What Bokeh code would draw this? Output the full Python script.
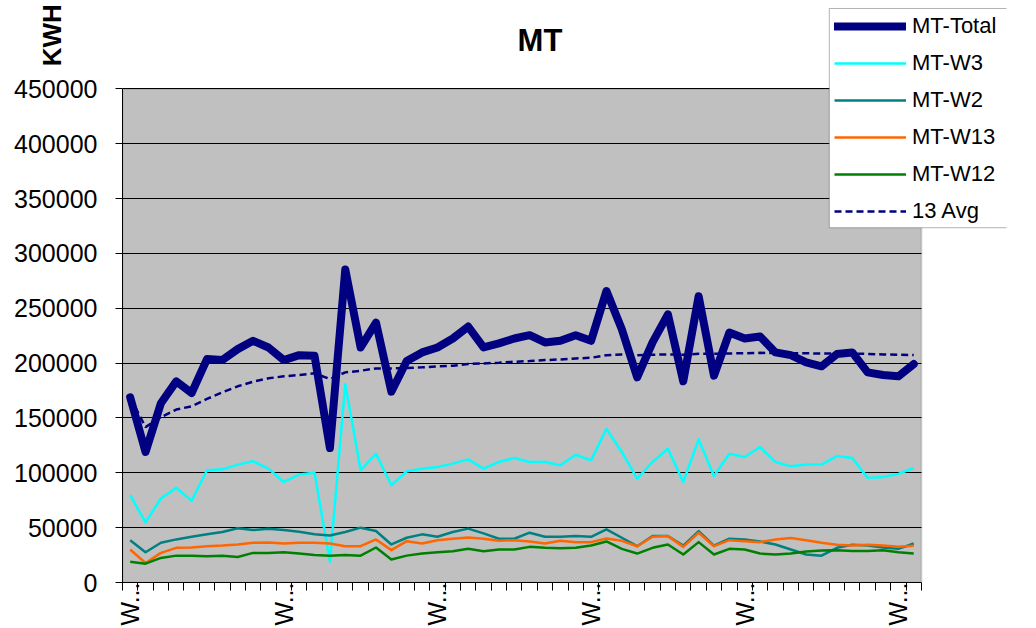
import math
from bokeh.plotting import figure
from bokeh.models import (Range1d, FixedTicker, NumeralTickFormatter, Legend, LegendItem,
                          Label, BoxAnnotation)
from bokeh.embed import file_html
from bokeh.resources import INLINE

# ---- data ----
weeks = list(range(1, 53))

mt_total = [168900, 119000, 163500, 183400, 172800, 203700, 202800, 212800, 220400, 214300,
            202800, 207300, 206700, 122600, 285400, 214300, 237000, 174000, 202000, 209800,
            214300, 222500, 233400, 214300, 218000, 222500, 225500, 218900, 220400, 225500,
            220400, 265800, 231000, 187100, 218900, 244500, 183500, 261000, 188600, 227900,
            222500, 224300, 209800, 207300, 200700, 197100, 208300, 209800, 191600, 189200,
            188000, 199200]

mt_w3 = [79600, 54800, 76600, 86300, 74500, 102300, 103200, 107500, 110500, 103800,
         91700, 98400, 100000, 19100, 181000, 102300, 117400, 88700, 101400, 103800,
         105300, 108400, 112300, 103800, 109900, 113500, 109900, 109900, 106900, 116500,
         111400, 140100, 119000, 94700, 109900, 122000, 91700, 130500, 97200, 117400,
         114400, 123500, 109900, 105900, 107500, 107500, 115300, 113500, 95400, 96300,
         99000, 104400]

mt_w2 = [38600, 27600, 36200, 39300, 41700, 43900, 46000, 49400, 47800, 49100,
         47800, 46300, 43900, 42900, 46000, 50000, 46900, 34700, 40800, 43900,
         41700, 46000, 49100, 44800, 39900, 39900, 45400, 41700, 41700, 42300,
         41700, 48500, 40800, 33100, 42300, 42300, 33700, 46900, 33700, 39900,
         39300, 37400, 34700, 30100, 25500, 24500, 31600, 34400, 33700, 31900,
         30700, 35600]

mt_w13 = [30100, 17800, 27000, 31600, 31900, 33100, 33700, 34700, 36200, 36500,
          35600, 36200, 36200, 35600, 33100, 33100, 39300, 29500, 37700, 35600,
          38600, 39900, 41100, 39900, 38000, 38600, 37400, 35600, 38000, 36800,
          36800, 40200, 38000, 33100, 41700, 42300, 32500, 45400, 33100, 38600,
          37700, 36800, 39300, 40500, 38600, 36200, 34400, 33700, 34400, 33700,
          32500, 33400]

mt_w12 = [19000, 17200, 22400, 24500, 24500, 23900, 24500, 23300, 27000, 27000,
          27600, 26400, 25100, 24500, 25100, 24500, 31900, 21000, 24500, 26400,
          27600, 28500, 30700, 28500, 30100, 30100, 32500, 31600, 31300, 31600,
          33700, 37400, 30700, 26400, 31600, 34700, 25500, 36800, 25500, 30700,
          30100, 26400, 25500, 26400, 28200, 29100, 29400, 28800, 28800, 29400,
          27600, 26400]

avg_13 = [168900, 141700, 150700, 157700, 160700, 167400, 173400, 178900, 183100, 186200,
          188000, 189200, 190700, 185600, 191600, 193100, 195200, 195200, 195500, 196200,
          197100, 197700, 199200, 199800, 200400, 201300, 201900, 202800, 203400, 204300,
          204900, 207300, 208000, 207300, 207700, 208000, 207700, 208600, 208500, 208800,
          209100, 209400, 209300, 209100, 209000, 208700, 208700, 208800, 208400, 208000,
          207600, 207400]

x_label_weeks = [1, 11, 21, 31, 41, 51]
x_label_text = ["W...", "W...", "W...", "W...", "W...", "W..."]
y_ticks = [0, 50000, 100000, 150000, 200000, 250000, 300000, 350000, 400000, 450000]
y_max = 450000

FONT = "Liberation Sans"

# ---- geometry (pixels) ----
W, H = 1036, 628
LEFT, BOTTOM = 122, 44
KWH_PANEL = 31                    # room the right-side panel holding "KWH" takes
PLOT_W, PLOT_H = 798, 495.2       # size of the grey plot area
frame_w = W - LEFT - KWH_PANEL
frame_h = H - BOTTOM
n = len(weeks)
x_start = 0.5
x_end = x_start + n * frame_w / PLOT_W
y_end = y_max * frame_h / PLOT_H
px_per_x = PLOT_W / n
px_per_y = PLOT_H / y_max


def dx(px):
    """page pixel x -> data x"""
    return x_start + (px - LEFT) / px_per_x


def dy(py):
    """page pixel y -> data y"""
    return (frame_h - py) / px_per_y


p = figure(width=W, height=H, output_backend="svg", toolbar_location=None,
           x_range=Range1d(x_start, x_end), y_range=Range1d(0, y_end),
           min_border_left=LEFT, min_border_right=0, min_border_top=0,
           min_border_bottom=BOTTOM)

p.background_fill_color = "white"
p.border_fill_color = "white"
p.outline_line_color = None

# grey plot area
area = BoxAnnotation(left=x_start, right=x_start + n, bottom=0, top=y_max,
                     fill_color="#C0C0C0", fill_alpha=1.0,
                     line_color="#808080", line_width=2, level="image")
p.add_layout(area)

p.xgrid.visible = False
yg = p.ygrid[0]
yg.ticker = FixedTicker(ticks=y_ticks[1:])
yg.grid_line_color = "black"
yg.grid_line_width = 1
if "cross_bounds" in yg.properties():
    yg.cross_bounds = (x_start, x_start + n)
    yg.bounds = (0, y_max)
else:
    yg.visible = False
    p.segment(x0=x_start, x1=x_start + n, y0=y_ticks[1:], y1=y_ticks[1:],
              line_color="black", line_width=1, level="underlay")

# y axis
ya = p.yaxis[0]
ya.bounds = (0, y_max)
ya.ticker = FixedTicker(ticks=y_ticks)
ya.formatter = NumeralTickFormatter(format="0")
ya.major_label_text_font = FONT
ya.major_label_text_font_size = "25px"
ya.major_label_text_color = "black"
ya.major_tick_out = 7
ya.major_tick_in = 0
ya.minor_tick_out = 0
ya.minor_tick_in = 0
ya.axis_line_color = "black"
ya.major_tick_line_color = "black"
ya.major_label_standoff = 18

# x axis
boundaries = [w - 0.5 for w in weeks] + [weeks[-1] + 0.5]
xa = p.xaxis[0]
xa.bounds = (x_start, x_start + n)
xa.ticker = FixedTicker(ticks=x_label_weeks, minor_ticks=boundaries)
xa.major_label_overrides = {w: t for w, t in zip(x_label_weeks, x_label_text)}
xa.major_label_orientation = math.pi / 2
xa.major_label_text_font = FONT
xa.major_label_text_font_size = "25px"
xa.major_label_text_color = "black"
xa.major_tick_out = 0
xa.major_tick_in = 0
xa.minor_tick_out = 8
xa.minor_tick_in = 0
xa.minor_tick_line_color = "black"
xa.axis_line_color = "black"
xa.major_label_standoff = -8

r_total = p.line(weeks, mt_total, line_color="#000080", line_width=8,
                 line_join="round", line_cap="round")
r_w3 = p.line(weeks, mt_w3, line_color="#00FFFF", line_width=2.5, line_join="round")
r_w2 = p.line(weeks, mt_w2, line_color="#008080", line_width=2.5, line_join="round")
r_w13 = p.line(weeks, mt_w13, line_color="#FF6600", line_width=2.5, line_join="round")
r_w12 = p.line(weeks, mt_w12, line_color="#008000", line_width=2.5, line_join="round")
r_avg = p.line(weeks, avg_13, line_color="#000080", line_width=2.5, line_dash="7 4")

# legend box (runs off the right edge, like the reference)
legend_box = BoxAnnotation(left=dx(828), right=x_end + 5, top=dy(8), bottom=dy(228),
                           fill_color="white", fill_alpha=1.0,
                           line_color="black", line_width=1)
p.add_layout(legend_box)

legend = Legend(items=[
    LegendItem(label="MT-Total", renderers=[r_total]),
    LegendItem(label="MT-W3", renderers=[r_w3]),
    LegendItem(label="MT-W2", renderers=[r_w2]),
    LegendItem(label="MT-W13", renderers=[r_w13]),
    LegendItem(label="MT-W12", renderers=[r_w12]),
    LegendItem(label="13 Avg", renderers=[r_avg]),
], location=(828 - LEFT + 6, frame_h - 226))
legend.label_text_font = FONT
legend.label_text_font_size = "22px"
legend.label_text_color = "black"
legend.glyph_width = 72
legend.label_standoff = 6
legend.glyph_height = 24
legend.label_height = 24
legend.spacing = 11
legend.padding = 6
legend.margin = 0
legend.border_line_color = None
legend.background_fill_alpha = 0.0
p.add_layout(legend)

title = Label(x=dx(539), y=dy(40),
              text="MT", text_align="center", text_baseline="alphabetic",
              text_font=FONT, text_font_style="bold", text_font_size="31px",
              text_color="black")
p.add_layout(title)

# "KWH" sits in the right side panel so that it is not clipped to the frame
kwh = Label(x=dx(52), y=dy(66),
            text="KWH", angle=math.pi / 2, text_align="left",
            text_baseline="alphabetic", text_font=FONT, text_font_style="bold",
            text_font_size="26px", text_color="black")
p.add_layout(kwh, "right")

open("out.html", "w").write(file_html(p, INLINE))
